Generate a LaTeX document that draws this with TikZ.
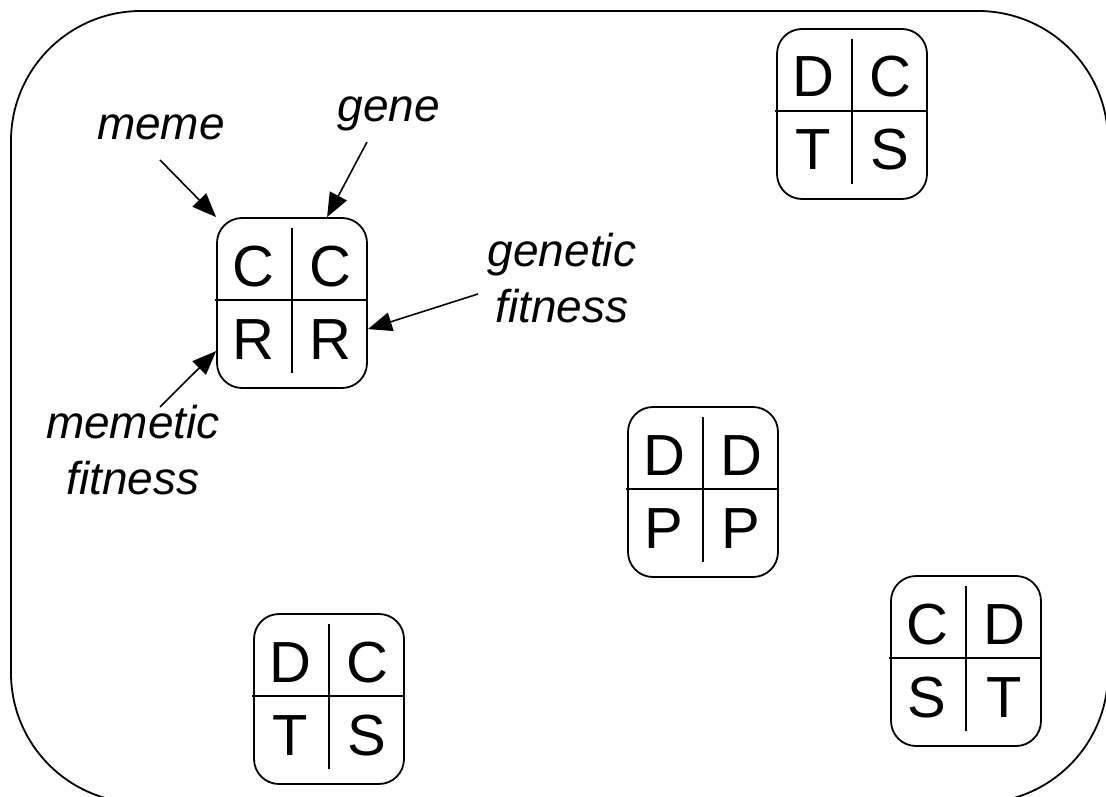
\documentclass[tikz,border=0pt]{standalone}
\usepackage{fontspec}
\setmainfont{Liberation Sans}
\usetikzlibrary{arrows.meta,calc}
\tikzset{
  outerframe/.style={line width=1.8pt, rounded corners=130pt},
  cellbox/.style={draw, line width=1.8pt, rounded corners=25pt, minimum width=150pt, minimum height=170pt, inner sep=0pt},
  divider/.style={line width=2.4pt},
  letter/.style={anchor=base, inner sep=0pt, font=\fontsize{58}{58}\selectfont},
  lbl/.style={anchor=base, inner sep=0pt, align=center, font=\fontsize{46}{56}\selectfont\itshape},
  pointer/.style={line width=1.6pt, -{Triangle[length=24pt,width=19pt]}}
}
\newcommand\genebox[7]{%
  \node[cellbox] (#1) at ({#2+75},{#3+85}) {};
  \draw[divider] ({#2-2},{#3+82}) -- ({#2+150},{#3+82});
  \draw[divider] ({#2+75},{#3+10}) -- ({#2+75},{#3+155});
  \node[letter] (#1-tl) at ({#2+36},{#3+68}) {#4};
  \node[letter] (#1-tr) at ({#2+113},{#3+68}) {#5};
  \node[letter] (#1-bl) at ({#2+36},{#3+141}) {#6};
  \node[letter] (#1-br) at ({#2+113},{#3+141}) {#7};
}
\begin{document}
\begin{tikzpicture}[x=1pt,y=-1pt]
\useasboundingbox (0,0) rectangle (1106,797);
\begin{scope}
\clip (0,0) rectangle (1106,797);
\draw[outerframe] (11,11) rectangle (1108,803);
\end{scope}
\genebox{ccrr}{217}{218}{C}{C}{R}{R}
\genebox{ddpp}{628}{407}{D}{D}{P}{P}
\genebox{dcts}{777}{29}{D}{C}{T}{S}
\genebox{dctsb}{254}{614}{D}{C}{T}{S}
\genebox{cdst}{891}{576}{C}{D}{S}{T}
\node[lbl] (meme) at (161,140) {meme};
\node[lbl] (gene) at (389,122) {gene};
\node[lbl] (genfit) at (562,322) {genetic\\fitness};
\node[lbl] (memfit) at (133,494) {memetic\\fitness};
\coordinate (memeS) at (160,160);
\coordinate (geneS) at (367,142);
\coordinate (genfitS) at (478,294);
\coordinate (memfitS) at (160,407);
\coordinate (geneT) at ($(ccrr.north west)+(111,0)$);
\coordinate (genfitT) at ($(ccrr.north east)+(0,112)$);
\coordinate (memfitT) at ($(ccrr.north west)+(0,134)$);
\draw[pointer] (memeS) -- (ccrr.north west);
\draw[pointer] (geneS) -- (geneT);
\draw[pointer] (genfitS) -- (genfitT);
\draw[pointer] (memfitS) -- (memfitT);
\end{tikzpicture}
\end{document}
